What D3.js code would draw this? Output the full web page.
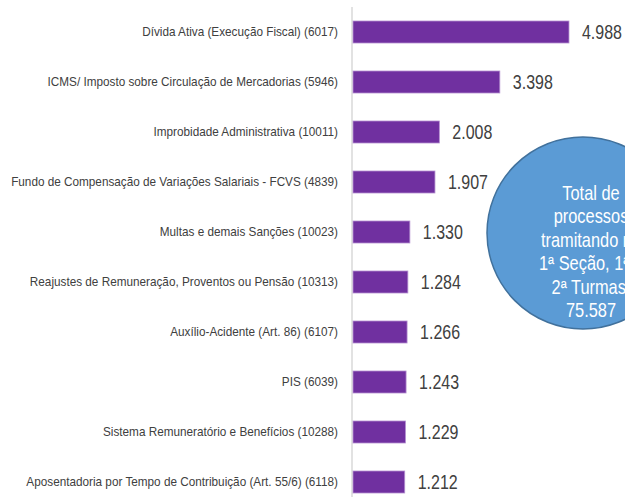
<!DOCTYPE html>
<html>
<head>
<meta charset="utf-8">
<script src="https://cdn.jsdelivr.net/npm/d3@7"></script>
<style>
  body { margin: 0; background: #fff; }
  svg { display: block; }
</style>
</head>
<body>
<div id="chart"></div>
<script>
// Controlling Constant
const svgWidth = 625,
  svgHeight = 497;
const axisX = 352;
const squeeze = 0.82; // narrow look, no condensed font installed
const catSqueeze = 0.94;

// data
const categories = [
  "Dívida Ativa (Execução Fiscal) (6017)",
  "ICMS/ Imposto sobre Circulação de Mercadorias (5946)",
  "Improbidade Administrativa (10011)",
  "Fundo de Compensação de Variações Salariais - FCVS (4839)",
  "Multas e demais Sanções (10023)",
  "Reajustes de Remuneração, Proventos ou Pensão (10313)",
  "Auxílio-Acidente (Art. 86) (6107)",
  "PIS (6039)",
  "Sistema Remuneratório e Benefícios (10288)",
  "Aposentadoria por Tempo de Contribuição (Art. 55/6) (6118)",
];
const values = [4988, 3398, 2008, 1907, 1330, 1284, 1266, 1243, 1229, 1212];
const bubbleLines = [
  "Total de",
  "processos",
  "tramitando na",
  "1ª Seção, 1ª e",
  "2ª Turmas:",
  "75.587",
];

const fmt = (v) => d3.format(",")(v).replace(/,/g, ".");
const font = "'Liberation Sans', Arial, sans-serif";

const svg = d3
  .select("#chart")
  .append("svg")
  .attr("width", svgWidth)
  .attr("height", svgHeight);

// scales
const x = d3.scaleLinear().domain([0, 6000]).range([axisX, axisX + 261]);
const y = d3
  .scaleBand()
  .domain(categories)
  .range([7, 507])
  .paddingInner(0.56)
  .paddingOuter(0.28);

// axis line
svg
  .append("line")
  .attr("x1", axisX)
  .attr("x2", axisX)
  .attr("y1", 7)
  .attr("y2", svgHeight)
  .attr("stroke", "#d9d9d9")
  .attr("stroke-width", 1.5);

// category labels
svg
  .selectAll("text.cat")
  .data(categories)
  .enter()
  .append("text")
  .attr("class", "cat")
  .attr(
    "transform",
    (d) =>
      `translate(${axisX - 14},${y(d) + y.bandwidth() / 2}) scale(${catSqueeze},1)`
  )
  .attr("dy", "0.35em")
  .attr("text-anchor", "end")
  .style("font-family", font)
  .style("font-size", "12.5px")
  .style("fill", "#404040")
  .text((d) => d);

// bars
svg
  .selectAll("rect.bar")
  .data(values)
  .enter()
  .append("rect")
  .attr("class", "bar")
  .attr("x", axisX + 1)
  .attr("y", (d, i) => y(categories[i]))
  .attr("width", (d) => x(d) - axisX - 1)
  .attr("height", y.bandwidth())
  .attr("fill", "#7030a0")
  .attr("stroke", "#b48fd0")
  .attr("stroke-width", 0.8);

// value labels
svg
  .selectAll("text.val")
  .data(values)
  .enter()
  .append("text")
  .attr("class", "val")
  .attr(
    "transform",
    (d, i) =>
      `translate(${x(d) + 13},${y(categories[i]) + y.bandwidth() / 2}) scale(${squeeze},1)`
  )
  .attr("dy", "0.35em")
  .style("font-family", font)
  .style("font-size", "19.5px")
  .style("fill", "#404040")
  .text((d) => fmt(d));

// bubble
svg
  .append("circle")
  .attr("cx", 583)
  .attr("cy", 233)
  .attr("r", 96)
  .attr("fill", "#5b9bd5")
  .attr("stroke", "#41719c")
  .attr("stroke-width", 1.5);

svg
  .selectAll("text.bub")
  .data(bubbleLines)
  .enter()
  .append("text")
  .attr("class", "bub")
  .attr("transform", (d, i) => `translate(591,${193 + i * 23.4}) scale(${squeeze},1)`)
  .attr("dy", "0.35em")
  .attr("text-anchor", "middle")
  .style("font-family", font)
  .style("font-size", "20px")
  .style("fill", "#fff")
  .text((d) => d);
</script>
</body>
</html>
